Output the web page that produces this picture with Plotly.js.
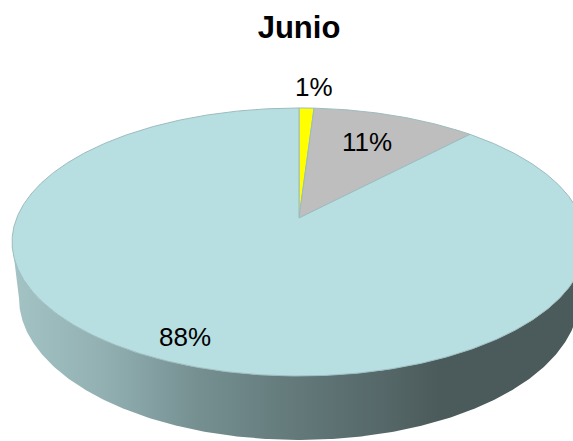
<!DOCTYPE html>
<html>
<head>
<meta charset="utf-8">
<script src="https://cdn.plot.ly/plotly-3.0.1.min.js"></script>
<style>html,body{margin:0;padding:0;background:#fff;}</style>
</head>
<body>
<div id="chart" style="width:573px;height:441px"></div>
<script>
// Pie data (percent of total), clockwise from 12 o'clock
const categories = ['A', 'B', 'C'];
const values = [1, 11, 88];
const labels = values.map(v => v + '%');

// Styling
const topColors = ['#FFFF00', '#BEBEBE', '#B7DEE1'];
const sideScales = [
  [[0, '#C9C900'], [1, '#6E6E00']],
  [[0, '#A8A8A8'], [1, '#5A5A5A']],
  [[0, '#A3C3C5'], [0.153, '#93B1B3'], [0.24, '#84A0A2'], [0.327, '#758F90'],
   [0.502, '#627879'], [0.676, '#536465'], [0.745, '#4B5A5A'], [1, '#4B5A5A']]
];

// Perspective view of the cylinder: each face of the disc is projected
// through a homography (screen pixel units on the hidden axes).
const CX = 299;
const TOP_FACE = {A: 282.3, B: 90.7, C: 218, k: 0.179};
const BOTTOM_FACE = {A: 275.5, B: 88.5, C: 272.7, k: 0.179};

function project(face, r, theta) {
  const u = r * Math.sin(theta);
  const v = -r * Math.cos(theta);
  const d = 1 - face.k * v;
  return [CX + face.A * u / d, (face.C + face.B * v) / d];
}

function arc(face, a0, a1) {
  const n = Math.max(2, Math.ceil(Math.abs(a1 - a0) / (Math.PI / 360)));
  const pts = [];
  for (let i = 0; i <= n; i++) pts.push(project(face, 1, a0 + (a1 - a0) * i / n));
  return pts;
}

const total = values.reduce((s, v) => s + v, 0);
const bounds = [];
let acc = 0;
values.forEach(v => {
  const a0 = 2 * Math.PI * acc / total;
  acc += v;
  bounds.push([a0, 2 * Math.PI * acc / total]);
});

// Rim is visible between the two silhouette angles (front half)
const rimR = Math.acos(-TOP_FACE.k);
const rimL = 2 * Math.PI - rimR;

const sideTraces = [];
const topTraces = [];
bounds.forEach(([a0, a1], i) => {
  const s0 = Math.max(a0, rimR), s1 = Math.min(a1, rimL);
  if (s1 > s0) {
    const pts = arc(TOP_FACE, s0, s1).concat(arc(BOTTOM_FACE, s1, s0));
    pts.push(pts[0]);
    sideTraces.push({
      type: 'scatter', mode: 'lines', fill: 'toself',
      x: pts.map(p => p[0]), y: pts.map(p => p[1]),
      line: {width: 0, color: 'rgba(0,0,0,0)'},
      fillgradient: {type: 'horizontal', colorscale: sideScales[i]},
      hoverinfo: 'skip', showlegend: false
    });
  }
  const c = project(TOP_FACE, 0, 0);
  const pts = [c].concat(arc(TOP_FACE, a0, a1), [c]);
  topTraces.push({
    type: 'scatter', mode: 'lines', fill: 'toself', name: categories[i],
    x: pts.map(p => p[0]), y: pts.map(p => p[1]),
    fillcolor: topColors[i],
    line: {width: 1, color: '#9DBCBE'},
    hoverinfo: 'skip', showlegend: false
  });
});

// Percentage label anchors (pixels)
const labelAnchors = [[314, 87], [367, 142], [185, 337]];
const annotations = labels.map((t, i) => ({
  text: t, x: labelAnchors[i][0], y: labelAnchors[i][1],
  xref: 'x', yref: 'y', showarrow: false,
  xanchor: 'center', yanchor: 'middle',
  font: {family: 'Arial, Liberation Sans, sans-serif', size: 26, color: '#000'}
}));

const layout = {
  width: 573, height: 441,
  margin: {l: 0, r: 0, t: 0, b: 0, pad: 0},
  paper_bgcolor: '#fff', plot_bgcolor: '#fff',
  title: {
    text: '<b>Junio</b>',
    font: {family: 'Arial, Liberation Sans, sans-serif', size: 31, color: '#000'},
    x: 299 / 573, xanchor: 'center', y: 1 - 27 / 441, yanchor: 'middle'
  },
  xaxis: {range: [0, 573], visible: false, fixedrange: true},
  yaxis: {range: [441, 0], visible: false, fixedrange: true},
  showlegend: false,
  hovermode: false,
  annotations: annotations
};

Plotly.newPlot('chart', sideTraces.concat(topTraces), layout, {staticPlot: true, displayModeBar: false});
</script>
</body>
</html>
